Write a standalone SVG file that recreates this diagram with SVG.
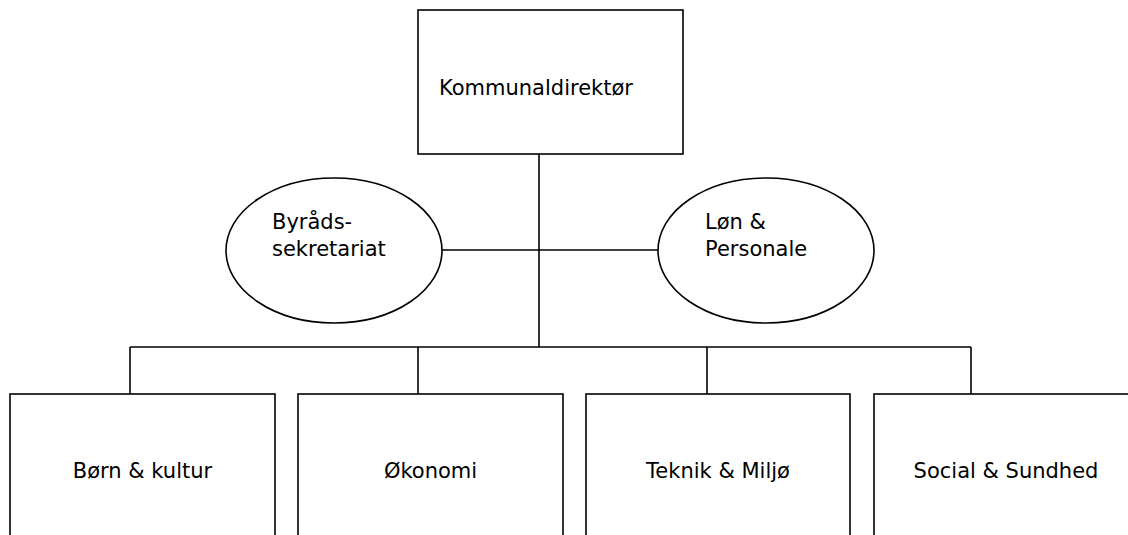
<svg xmlns="http://www.w3.org/2000/svg" width="1128" height="535" viewBox="0 0 1128 535">
<style>
.box{fill:#fff;stroke:#000;stroke-width:1.6}
.conn line{stroke:#000;stroke-width:1.6}
text{font-family:"DejaVu Sans",Verdana,sans-serif;font-size:21px;fill:#000}
.c{text-anchor:middle}
</style>
<rect width="1128" height="535" fill="#fff"/>
<g id="connectors" class="conn">
<line x1="539" y1="154" x2="539" y2="347"/>
<line x1="442" y1="250" x2="658" y2="250"/>
<line x1="130" y1="347" x2="971" y2="347"/>
<line x1="130" y1="347" x2="130" y2="394"/>
<line x1="418" y1="347" x2="418" y2="394"/>
<line x1="707" y1="347" x2="707" y2="394"/>
<line x1="971" y1="347" x2="971" y2="394"/>
</g>
<g id="kommunaldirektor">
<rect class="box" x="418" y="10" width="265" height="144"/>
<text x="439" y="95">Kommunaldirektør</text>
</g>
<g id="byraadssekretariat">
<ellipse class="box" cx="334" cy="250.5" rx="108" ry="72.5"/>
<text x="272" y="229">Byråds-</text>
<text x="272" y="256">sekretariat</text>
</g>
<g id="loen-personale">
<ellipse class="box" cx="766" cy="250.5" rx="108" ry="72.5"/>
<text x="705" y="229">Løn &amp;</text>
<text x="705" y="256">Personale</text>
</g>
<g id="boern-kultur">
<rect class="box" x="10" y="394" width="265" height="160"/>
<text class="c" x="142.5" y="478">Børn &amp; kultur</text>
</g>
<g id="oekonomi">
<rect class="box" x="298" y="394" width="265" height="160"/>
<text class="c" x="430.5" y="478">Økonomi</text>
</g>
<g id="teknik-miljoe">
<rect class="box" x="586" y="394" width="264" height="160"/>
<text class="c" x="718" y="478">Teknik &amp; Miljø</text>
</g>
<g id="social-sundhed">
<rect class="box" x="874" y="394" width="265" height="160"/>
<text class="c" x="1006" y="478">Social &amp; Sundhed</text>
</g>
</svg>
